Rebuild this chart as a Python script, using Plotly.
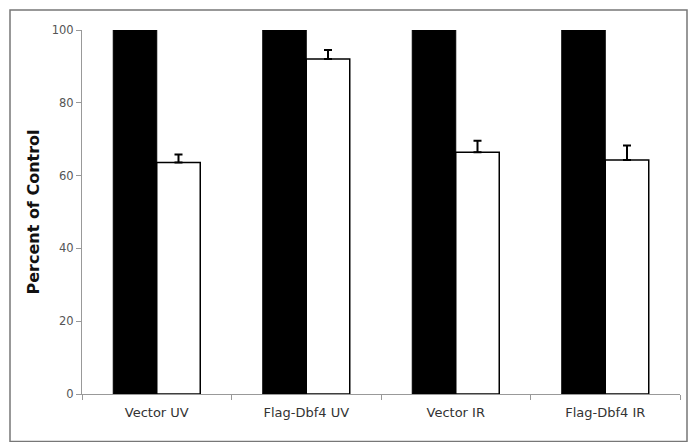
import plotly.graph_objects as go

categories = ["Vector UV", "Flag-Dbf4 UV", "Vector IR", "Flag-Dbf4 IR"]
control_values = [100, 100, 100, 100]
treated_values = [63.6, 92.0, 66.4, 64.3]
treated_errors = [2.2, 2.5, 3.2, 4.0]
y_ticks = [0, 20, 40, 60, 80, 100]

fig = go.Figure()
fig.add_trace(go.Bar(
    x=categories, y=control_values, name="Control",
    marker=dict(color="black", line=dict(color="black", width=1)),
))
fig.add_trace(go.Bar(
    x=categories, y=treated_values, name="Treated",
    marker=dict(color="white", line=dict(color="black", width=1.5)),
    error_y=dict(type="data", array=treated_errors, arrayminus=[0]*4,
                 symmetric=False, color="black", thickness=2, width=4),
))

fig.update_layout(
    width=689, height=442,
    margin=dict(l=82, r=9, t=30, b=48),
    paper_bgcolor="white", plot_bgcolor="white",
    barmode="group", bargap=0.418, bargroupgap=0,
    showlegend=False,
    font=dict(family="DejaVu Sans", color="#333"),
    shapes=[dict(type="rect", xref="paper", yref="paper",
                 x0=-72/598, x1=1+7/598, y0=-47.5/364, y1=1+20/364,
                 line=dict(color="#777", width=1.5), layer="below")],
)
fig.update_xaxes(
    showline=True, linecolor="#999", linewidth=1,
    ticks="outside", tickson="boundaries", ticklen=5, tickcolor="#999",
    tickfont=dict(size=13, color="#333", family="DejaVu Sans"),
    ticklabelstandoff=6,
    showgrid=False,
)
fig.update_yaxes(
    range=[0, 100], tickvals=y_ticks,
    showline=True, linecolor="#999", linewidth=1,
    ticks="outside", ticklen=5, tickcolor="#999",
    tickfont=dict(size=11.5, color="#555", family="DejaVu Sans"),
    showgrid=False, zeroline=False,
    title=dict(text="<b>Percent of Control</b>", font=dict(size=16, color="#111", family="DejaVu Sans"), standoff=8),
)

fig.write_html("out.html", post_script="document.body.style.margin='0px';",
               config={"displayModeBar": False})
